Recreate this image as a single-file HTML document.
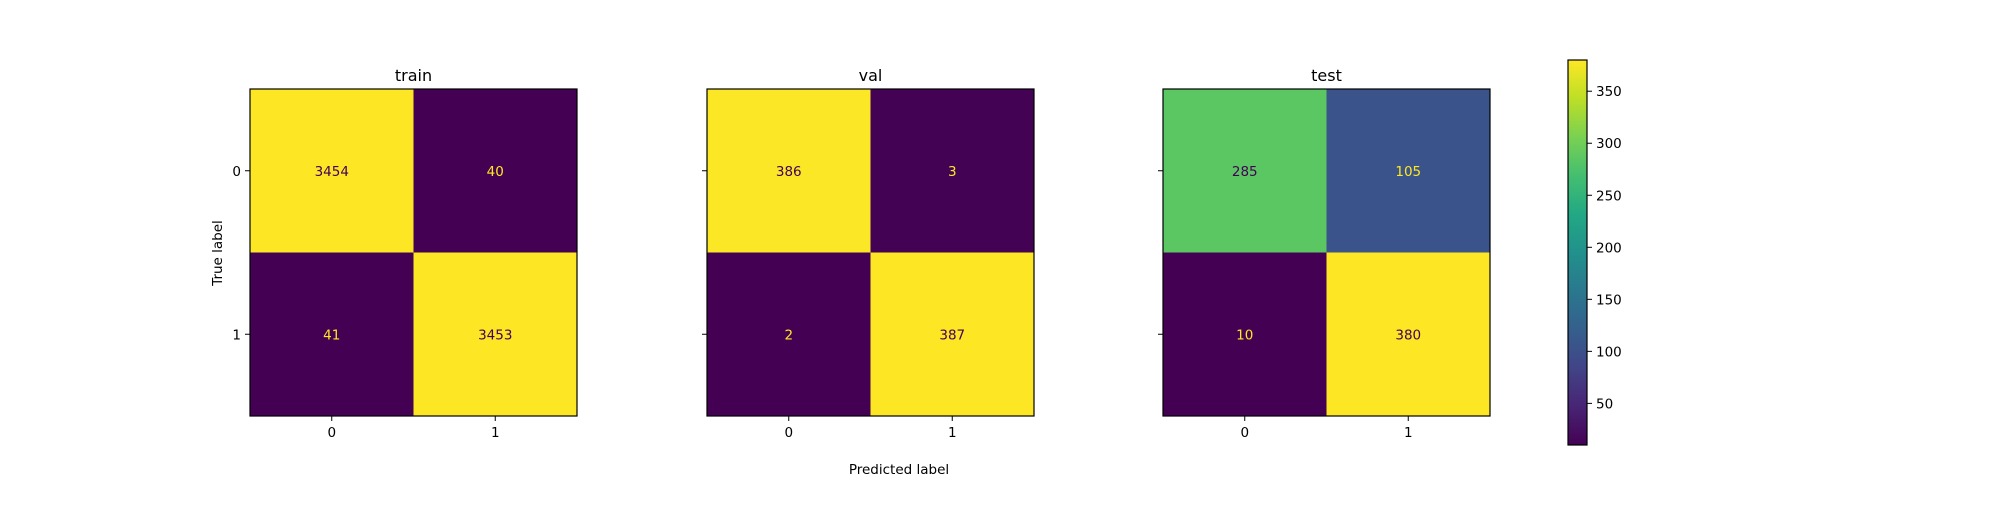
<!DOCTYPE html>
<html><head><meta charset="utf-8"><style>
body{margin:0;background:#fff;}
svg text{font-family:"DejaVu Sans","Liberation Sans",sans-serif;}
</style></head><body>
<svg id="chart" width="2000" height="500" xmlns="http://www.w3.org/2000/svg">
<defs>
<linearGradient id="vir" x1="0" y1="1" x2="0" y2="0">
<stop offset="0" stop-color="#440154"/><stop offset="0.1" stop-color="#482475"/>
<stop offset="0.2" stop-color="#414487"/><stop offset="0.3" stop-color="#355f8d"/>
<stop offset="0.4" stop-color="#2a788e"/><stop offset="0.5" stop-color="#21918c"/>
<stop offset="0.6" stop-color="#22a884"/><stop offset="0.7" stop-color="#44bf70"/>
<stop offset="0.8" stop-color="#7ad151"/><stop offset="0.9" stop-color="#bddf26"/>
<stop offset="1" stop-color="#fde725"/>
</linearGradient>
</defs>
<text x="899" y="474" font-size="13.5" text-anchor="middle" fill="#000">Predicted label</text>
</svg>
<script>
const panelTitles = ["train", "val", "test"];
const trainValues = [[3454, 40], [41, 3453]];
const valValues = [[386, 3], [2, 387]];
const testValues = [[285, 105], [10, 380]];
const classLabels = ["0", "1"];
const cbTicks = [50, 100, 150, 200, 250, 300, 350];
const cbMin = 10, cbMax = 380;

const NS = "http://www.w3.org/2000/svg";
const svg = document.getElementById("chart");
function mk(tag, attrs, parent) {
  const e = document.createElementNS(NS, tag);
  for (const k in attrs) e.setAttribute(k, attrs[k]);
  (parent || svg).appendChild(e);
  return e;
}
const stops = ["#440154","#482475","#414487","#355f8d","#2a788e","#21918c","#22a884","#44bf70","#7ad151","#bddf26","#fde725"];
function hex2rgb(h){return [1,3,5].map(i=>parseInt(h.substr(i,2),16));}
function viridis(t){
  t=Math.max(0,Math.min(1,t));
  const f=t*10, i=Math.min(9,Math.floor(f)), r=f-i;
  const a=hex2rgb(stops[i]), b=hex2rgb(stops[i+1]);
  return "rgb("+a.map((v,k)=>Math.round(v+(b[k]-v)*r)).join(",")+")";
}
const allData = [trainValues, valValues, testValues];
const lefts = [250, 707, 1163];
const top0 = 89, size = 327;
allData.forEach((data, p) => {
  const x0 = lefts[p];
  const flat = data.flat();
  const vmin = Math.min(...flat), vmax = Math.max(...flat);
  const n = data.length, cell = size / n;
  const g = mk("g", {});
  
  
  data.forEach((row, i) => row.forEach((v, j) => {
    const t = (v - vmin) / (vmax - vmin);
    const r = mk("rect", {x: x0 + j*cell, y: top0 + i*cell, width: cell+0.5, height: cell+0.5, fill: viridis(t)}, g);
    
    
    const tx = mk("text", {x: x0 + (j+0.5)*cell, y: top0 + (i+0.5)*cell + 5, "font-size": 13.5, "text-anchor": "middle", fill: t < 0.5 ? "#fde725" : "#440154"}, g);
    tx.textContent = v;
    
    
  }));
  const fr = mk("rect", {x: x0, y: top0, width: size, height: size, fill: "none", stroke: "#000", "stroke-width": 1.2}, g);
  
  
  const tt = mk("text", {x: x0 + size/2, y: 81, "font-size": 16, "text-anchor": "middle", fill: "#000"}, g);
  tt.textContent = panelTitles[p];
  
  
  classLabels.forEach((lab, k) => {
    const cx = x0 + (k+0.5)*cell;
    mk("line", {x1: cx, x2: cx, y1: top0+size, y2: top0+size+5, stroke: "#000"}, g);
    const xl = mk("text", {x: cx, y: top0+size+21, "font-size": 13.5, "text-anchor": "middle"}, g);
    xl.textContent = lab;
    
    
    const cy = top0 + (k+0.5)*cell;
    mk("line", {x1: x0-5, x2: x0, y1: cy, y2: cy, stroke: "#000"}, g);
    if (p === 0) {
      const yl = mk("text", {x: x0-9, y: cy+5, "font-size": 13.5, "text-anchor": "end"}, g);
      yl.textContent = lab;
      
      
    }
  });
});
const yt = mk("text", {x: 0, y: 0, "font-size": 13.5, "text-anchor": "middle", transform: "translate(222,253) rotate(-90)"});
yt.textContent = "True label";


// colorbar
const cbX = 1568, cbW = 19, cbTop = 60, cbBot = 445;
const cbY = v => cbBot - (v - cbMin) / (cbMax - cbMin) * (cbBot - cbTop);
const cb = mk("rect", {x: cbX, y: cbTop, width: cbW, height: cbBot-cbTop, fill: "url(#vir)", stroke: "#000", "stroke-width": 1.2});


cbTicks.forEach(v => {
  const y = cbY(v);
  mk("line", {x1: cbX+cbW, x2: cbX+cbW+5, y1: y, y2: y, stroke: "#000"});
  const t = mk("text", {x: cbX+cbW+9, y: y+5, "font-size": 13.5});
  t.textContent = v;
  
  
});
</script>
</body></html>
